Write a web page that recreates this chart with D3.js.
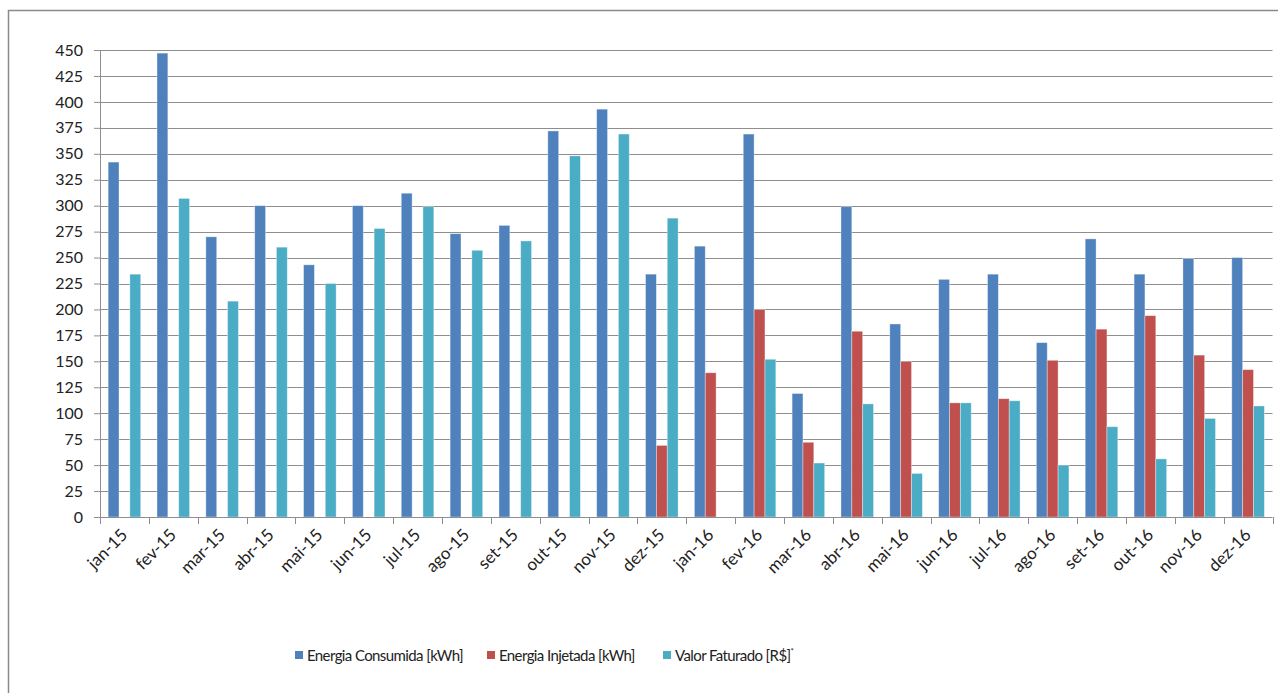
<!DOCTYPE html>
<html>
<head>
<meta charset="utf-8">
<script src="https://cdn.jsdelivr.net/npm/d3@7"></script>
<style>
  body { margin: 0; background: #fff; }
  svg text { font-family: Lato, "Open Sans", sans-serif; fill: #222; }
</style>
</head>
<body>
<div id="chart"></div>
<script>
var months = ['jan-15','fev-15','mar-15','abr-15','mai-15','jun-15','jul-15','ago-15','set-15','out-15','nov-15','dez-15',
              'jan-16','fev-16','mar-16','abr-16','mai-16','jun-16','jul-16','ago-16','set-16','out-16','nov-16','dez-16'];
var consumida = [342,447,270,300,243,300,312,273,281,372,393,234,
                 261,369,119,299,186,229,234,168,268,234,249,250];
var injetada = [0,0,0,0,0,0,0,0,0,0,0,69,
                139,200,72,179,150,110,114,151,181,194,156,142];
var faturado = [234,307,208,260,225,278,299,257,266,348,369,288,
                0,152,52,109,42,110,112,50,87,56,95,107];
var yTicks = [0,25,50,75,100,125,150,175,200,225,250,275,300,325,350,375,400,425,450];

var seriesNames = ['Energia Consumida [kWh]', 'Energia Injetada [kWh]', 'Valor Faturado [R$]'];
var colors = ['#4F81BD', '#C0504D', '#4BACC6'];
var seriesData = [consumida, injetada, faturado];

var W = 1278, H = 693;
var m = { left: 100, top: 50 };
var width = 1272.5 - m.left, height = 517 - m.top;

var svg = d3.select('#chart').append('svg')
    .attr('width', W).attr('height', H);

// outer frame
svg.append('path')
    .attr('d', 'M8.5,' + H + 'V10.5H' + W)
    .attr('fill', 'none').attr('stroke', '#8a8a8a').attr('stroke-width', 1.5);

var g = svg.append('g').attr('transform', 'translate(' + m.left + ',' + m.top + ')');

var x = d3.scaleBand().domain(months).range([0, width]).padding(0);
var y = d3.scaleLinear().domain([0, 450]).range([height, 0]);

// bars: gap width 150% -> group takes 3/4.5 of category
var groupW = x.bandwidth() * 3 / 4.5;
var xs = d3.scaleBand().domain([0, 1, 2]).range([0, groupW]).padding(0);

// gridlines
g.append('g').selectAll('line').data(yTicks.slice(1)).enter().append('line')
    .attr('x1', 0).attr('x2', width)
    .attr('y1', function(d) { return Math.round(y(d)) + 0.5; })
    .attr('y2', function(d) { return Math.round(y(d)) + 0.5; })
    .attr('stroke', '#8e8e8e').attr('stroke-width', 1);

// y axis
var yAxis = d3.axisLeft(y).tickValues(yTicks).tickSize(6).tickPadding(11);
g.append('g').call(yAxis).call(function(a) {
    a.select('.domain').attr('stroke', '#8e8e8e');
    a.selectAll('.tick line').attr('stroke', '#8e8e8e');
    a.selectAll('.tick text').style('font-size', '16px').attr('fill', '#222');
});

// bars
seriesData.forEach(function(vals, s) {
    var pts = vals.map(function(v, i) { return { month: months[i], value: v }; })
        .filter(function(d) { return d.value > 0; });
    g.append('g').selectAll('rect').data(pts).enter().append('rect')
        .attr('x', function(d) { return x(d.month) + (x.bandwidth() - groupW) / 2 + xs(s); })
        .attr('y', function(d) { return y(d.value); })
        .attr('width', xs.bandwidth())
        .attr('height', function(d) { return height - y(d.value); })
        .attr('fill', colors[s])
        .attr('stroke', 'rgba(255,255,255,0.45)').attr('stroke-width', 0.8);
});

// x axis
var xg = g.append('g').attr('transform', 'translate(0,' + height + ')');
xg.append('line').attr('x1', 0).attr('x2', width).attr('y1', 0.5).attr('y2', 0.5)
    .attr('stroke', '#8e8e8e');
xg.selectAll('.sep').data(d3.range(months.length + 1)).enter().append('line')
    .attr('x1', function(i) { return Math.round(i * x.step()) + 0.5; })
    .attr('x2', function(i) { return Math.round(i * x.step()) + 0.5; })
    .attr('y1', 0).attr('y2', 7).attr('stroke', '#8e8e8e');
xg.selectAll('.lbl').data(months).enter().append('text')
    .attr('transform', function(d) {
        return 'translate(' + (x(d) + x.bandwidth() / 2 + 4) + ',19) rotate(-45)';
    })
    .attr('text-anchor', 'end')
    .style('font-size', '17px')
    .text(function(d) { return d; });

// legend
var legendX = [295, 487, 663];
var lg = svg.append('g').attr('transform', 'translate(0,655)');
seriesNames.forEach(function(name, i) {
    lg.append('rect').attr('x', legendX[i]).attr('y', -4).attr('width', 8).attr('height', 8)
        .attr('fill', colors[i]);
    var t = lg.append('text').attr('x', legendX[i] + 12).attr('y', 5.5)
        .style('font-size', '15px').style('letter-spacing', '-0.6px').text(name);
    if (i === 2) {
        t.append('tspan').attr('dy', -7).style('font-size', '8px').text('*');
    }
});
</script>
</body>
</html>
